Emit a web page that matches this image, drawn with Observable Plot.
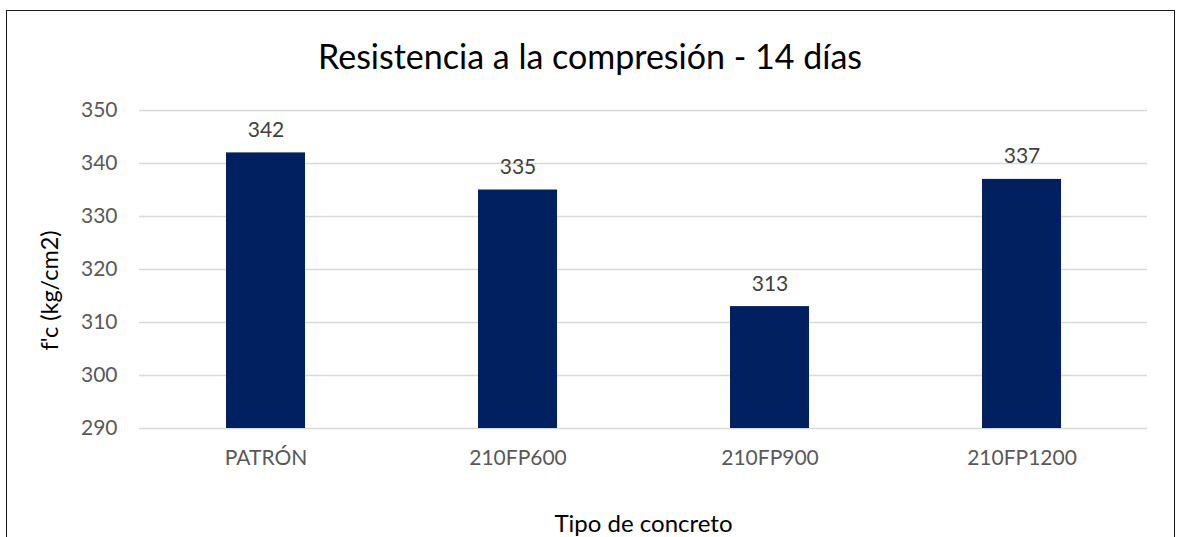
<!DOCTYPE html>
<html>
<head>
<meta charset="utf-8">
<script src="https://cdn.jsdelivr.net/npm/d3@7"></script>
<script src="https://cdn.jsdelivr.net/npm/@observablehq/plot@0.6"></script>
<style>
  html, body { margin: 0; padding: 0; background: #fff; }
  #chart { position: relative; width: 1180px; height: 537px; overflow: hidden; font-family: Lato, "Noto Sans", sans-serif; }
  #frame { position: absolute; left: 6px; top: 10px; width: 1169px; height: 600px; border: 1.5px solid #1a1a1a; box-sizing: border-box; }
  #title { position: absolute; left: 0; width: 1180px; top: 39px; text-align: center; font-size: 34px; color: #000; line-height: 1; }
  #chart svg { position: absolute; left: 0; top: 0; }
</style>
</head>
<body>
<div id="chart">
  <div id="frame"></div>
  <div id="title">Resistencia a la compresión - 14 días</div>
</div>
<script>
// Compressive strength at 14 days per concrete type
const categories = ["PATRÓN", "210FP600", "210FP900", "210FP1200"];
const strength = [342, 335, 313, 337];
const yTicks = [290, 300, 310, 320, 330, 340, 350];
const yTitle = "f'c (kg/cm2)";
const xTitle = "Tipo de concreto";

const rows = categories.map((tipo, i) => ({tipo, fc: strength[i]}));

const chart = Plot.plot({
  width: 1180,
  height: 537,
  marginTop: 110,
  marginLeft: 139,
  marginRight: 33,
  marginBottom: 109,
  style: {fontFamily: "Lato, 'Noto Sans', sans-serif", background: "transparent", overflow: "visible"},
  x: {domain: categories, paddingInner: 0.687, paddingOuter: 0.3435},
  y: {domain: [290, 350]},
  marks: [
    Plot.ruleY(yTicks, {stroke: "#d9d9d9", strokeWidth: 1.5}),
    Plot.barY(rows, {x: "tipo", y1: 290, y2: "fc", fill: "#002060"}),
    Plot.text(rows, {x: "tipo", y: "fc", text: d => String(d.fc), lineAnchor: "bottom", dy: -16, fontSize: 21, fill: "#404040"}),
    Plot.axisY(yTicks, {tickSize: 0, tickPadding: 22, fontSize: 21, color: "#595959", label: null}),
    Plot.axisX({
      tickSize: 0, tickPadding: 22, fontSize: 21, color: "#595959",
      label: xTitle, labelAnchor: "center", labelOffset: 103, labelArrow: "none"
    }),
    // vertical axis title, rotated and placed left of the tick labels
    Plot.text([yTitle], {
      frameAnchor: "left", rotate: -90, dx: -89, dy: 21,
      fontSize: 23.5, fill: "#000", textAnchor: "middle", lineAnchor: "middle"
    })
  ]
});

// Horizontal axis title is black and a bit larger than the tick labels
chart.querySelectorAll("g[aria-label='x-axis label']").forEach(g => {
  g.setAttribute("fill", "#000");
  g.setAttribute("font-size", "24");
});

document.getElementById("chart").appendChild(chart);
</script>
</body>
</html>
